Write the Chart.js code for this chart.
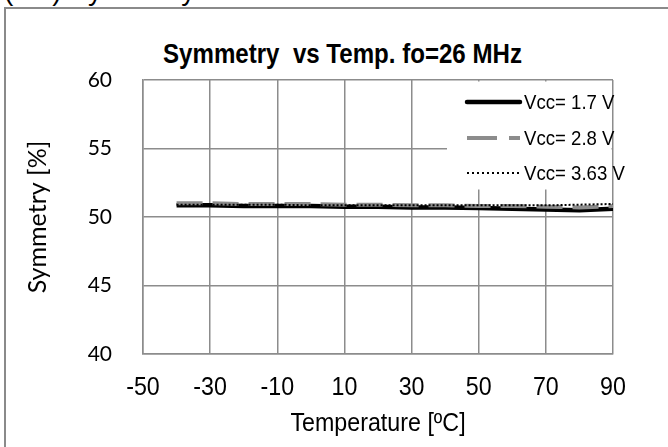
<!DOCTYPE html>
<html><head><meta charset="utf-8">
<script src="https://cdn.jsdelivr.net/npm/chart.js@4.4.0/dist/chart.umd.min.js"></script>
<style>
html,body{margin:0;padding:0;background:#fff;overflow:hidden;}
#wrap{position:relative;width:668px;height:447px;overflow:hidden;}
#frame{position:absolute;left:4px;top:7px;width:700px;height:500px;border:2px solid #8a8a8a;box-sizing:border-box;}
#cap{position:absolute;left:4px;top:-25px;font:28px "Liberation Sans",Arial,sans-serif;color:#000;white-space:nowrap;}
#ttl{position:absolute;left:0;width:685px;top:38px;line-height:28px;text-align:center;font:bold 28px "Liberation Sans",Arial,sans-serif;color:#000;transform:scaleX(0.86);transform-origin:342.5px 0;white-space:nowrap;}
canvas{position:absolute;left:0;top:0;}
</style></head>
<body><div id="wrap">
<div id="cap">(c-3) Symmetry</div>
<div id="frame"></div>
<div id="ttl">Symmetry&nbsp; vs Temp. fo=26 MHz</div>
<canvas id="c" width="668" height="447"></canvas>
</div>
<script>
const temps = [-40,-30,-20,-10,0,10,20,30,40,50,60,70,80,90];
const vcc17 = [50.85,50.85,50.8,50.8,50.8,50.75,50.75,50.7,50.7,50.65,50.6,50.55,50.5,50.6];
const vcc28 = [51.0,51.0,50.95,50.95,50.95,50.9,50.9,50.85,50.85,50.8,50.8,50.75,50.7,50.8];
const vcc363 = [50.9,50.9,50.9,50.9,50.85,50.85,50.85,50.85,50.85,50.85,50.85,50.85,50.9,50.95];
const seriesNames = ['Vcc= 1.7 V','Vcc= 2.8 V','Vcc= 3.63 V'];
const xTicks = [-50,-30,-10,10,30,50,70,90];
const yTicks = [40,45,50,55,60];

const NARROW = '"Arial Narrow","Liberation Sans",Arial,sans-serif';
const toPts = arr => arr.map((v,i)=>({x:temps[i], y:v}));

const narrowPlugin = {
  id:'narrowText',
  beforeInit(chart){
    const ctx = chart.ctx;
    const orig = ctx.fillText;
    ctx.fillText = function(text, x, y, maxW){
      if (this.font.indexOf('Narrow') >= 0) {
        this.save();
        this.translate(x, y);
        this.scale(0.93, 1);
        if (maxW === undefined) orig.call(this, text, 0, 0); else orig.call(this, text, 0, 0, maxW / 0.93);
        this.restore();
      } else {
        if (maxW === undefined) orig.call(this, text, x, y); else orig.call(this, text, x, y, maxW);
      }
    };
  }
};

const legendPlugin = {
  id:'customLegend',
  afterDraw(chart){
    const ctx = chart.ctx;
    const ca = chart.chartArea;
    ctx.save();
    ctx.fillStyle = '#fff';
    ctx.fillRect(447, ca.top+1.5, ca.right-1.5-447, 108);
    const ys = [102,138,173];
    chart.data.datasets.forEach((ds,i)=>{
      ctx.beginPath();
      ctx.strokeStyle = ds.borderColor;
      ctx.lineWidth = ds.borderWidth;
      ctx.setLineDash(ds.legendDash || []);
      ctx.lineCap = ds.legendCap || 'butt';
      ctx.moveTo(467, ys[i]); ctx.lineTo(520, ys[i]);
      ctx.stroke();
      ctx.setLineDash([]);
      ctx.fillStyle = '#000';
      ctx.font = '20px ' + NARROW;
      ctx.textBaseline = 'middle';
      ctx.textAlign = 'left';
      ctx.fillText(ds.label, 524, ys[i]+1);
    });
    ctx.restore();
  }
};

new Chart(document.getElementById('c'), {
  type:'line',
  data:{
    datasets:[
      {label:seriesNames[0], data:toPts(vcc17), borderColor:'#000', borderWidth:4.5, pointRadius:0, order:3, legendCap:'round'},
      {label:seriesNames[1], data:toPts(vcc28), borderColor:'#8c8c8c', borderWidth:4, borderDash:[26,10], pointRadius:0, order:2, legendDash:[30,12], legendCap:'butt'},
      {label:seriesNames[2], data:toPts(vcc363), borderColor:'#000', borderWidth:2, borderDash:[2,2], pointRadius:0, order:1, legendDash:[2,3]}
    ]
  },
  options:{
    responsive:false,
    animation:false,
    layout:{padding:{left:0,right:55,top:80,bottom:0}},
    plugins:{legend:{display:false},title:{display:false},tooltip:{enabled:false}},
    scales:{
      x:{
        type:'linear', min:-50, max:90,
        afterBuildTicks(s){ s.ticks = xTicks.map(v=>({value:v})); },
        afterFit(s){ s.height = 93; },
        grid:{color:'#8c8c8c', lineWidth:1.5, drawTicks:false},
        border:{color:'#8c8c8c', width:1.5},
        ticks:{padding:19, color:'#000', maxRotation:0, autoSkip:false, font:{family:NARROW, size:25}},
        title:{display:true, text:'Temperature [ºC]', color:'#000', padding:{top:0,bottom:8}, font:{family:NARROW, size:25}}
      },
      y:{
        type:'linear', min:40, max:60,
        afterBuildTicks(s){ s.ticks = yTicks.map(v=>({value:v})); },
        afterFit(s){ s.width = 143; },
        grid:{color:'#8c8c8c', lineWidth:1.5, drawTicks:false},
        border:{color:'#8c8c8c', width:1.5},
        ticks:{padding:31, color:'#000', font:{family:'Lato,"Open Sans",sans-serif', size:21}},
        title:{display:true, text:'Symmetry [%]', color:'#000', padding:{top:23,bottom:0}, font:{family:'Lato,"Open Sans",sans-serif', size:25}}
      }
    }
  },
  plugins:[narrowPlugin, legendPlugin]
});
</script>
</body></html>
